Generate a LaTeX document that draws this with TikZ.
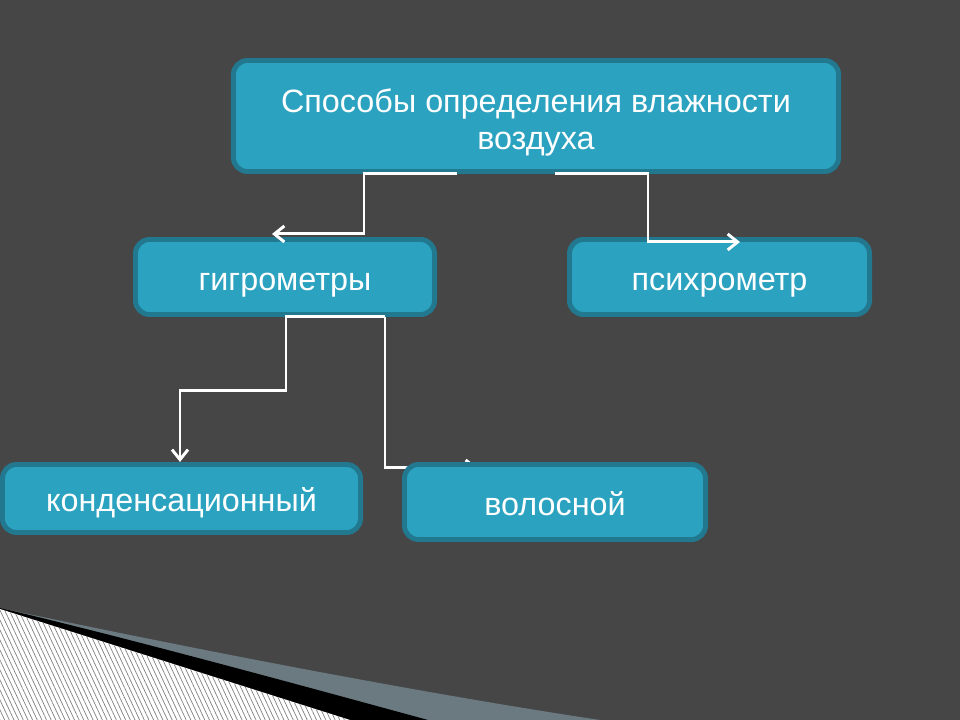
\documentclass[tikz,border=0pt]{standalone}
\usepackage{fontspec}
\setmainfont{Liberation Sans}
\usepackage{xcolor}
\usetikzlibrary{arrows.meta, patterns.meta}
\definecolor{slide}{HTML}{464646}
\definecolor{boxfill}{HTML}{2BA2BF}
\definecolor{boxrim}{HTML}{22788F}
\definecolor{wedge}{HTML}{6A7A80}
\newcommand{\bfs}{\fontsize{23}{26.5}\selectfont}

\begin{document}
\begin{tikzpicture}[x = 0.025cm, y = -0.025cm,
    box/.style = {draw = boxrim, fill = boxfill, line width = 3.5pt, rounded corners = 0.35cm,
                  text = white, align = center, font = \bfs, text height = 21pt, text depth = 2pt},
    link/.style = {white, line width = 2.1pt, -{Straight Barb[length = 2.5mm, width = 4mm]}}]
    \useasboundingbox (0,0) rectangle (960,720);
    \fill[slide] (0,0) rectangle (960,720);
    % corner wedge
    \fill[wedge] (0,608) .. controls (150,640) and (400,690) .. (600,720) -- (0,720) -- cycle;
    \fill[black] (0,608) .. controls (120,636) and (300,685) .. (428,720) -- (0,720) -- cycle;
    \fill[white, postaction = {pattern = {Lines[angle = -65, distance = 3pt, line width = 0.5pt]},
                               pattern color = gray}] (0,609) -- (350,720) -- (0,720) -- cycle;
    % boxes
    \node[box, minimum width = 15.125cm, minimum height = 2.775cm,
          text height = 48.5pt, text depth = 1pt] (top) at (536,116)
      {Способы определения влажности\\воздуха};
    \foreach \n/\x/\y/\w/\h/\t in {hyg/285/277/7.475/1.875/гигрометры,
                                    psy/719.5/277/7.5/1.875/психрометр,
                                    cond/181.5/498.5/8.95/1.7/конденсационный} {
      \node[box, minimum width = \w cm, minimum height = \h cm] (\n) at (\x,\y) {\t};
    }
    % links
    \draw[link] (top.south) ++(-79,0) -- ++(-93,0) -- ++(0,60) -- ++(-92,0);
    \draw[link] (top.south) ++(19,0) -- ++(93,0) -- ++(0,68) -- ++(92,0);
    \draw[link] (hyg.south) ++(100,0) -- ++(-99,0) -- ++(0,74) -- ++(-106,0) -- ++(0,71);
    \draw[link] (hyg.south) ++(100,0) -- ++(0,151) -- ++(93,0);
    \node[box, minimum width = 7.525cm, minimum height = 1.875cm] (hair) at (555,502) {волосной};
  \end{tikzpicture}
\end{document}
